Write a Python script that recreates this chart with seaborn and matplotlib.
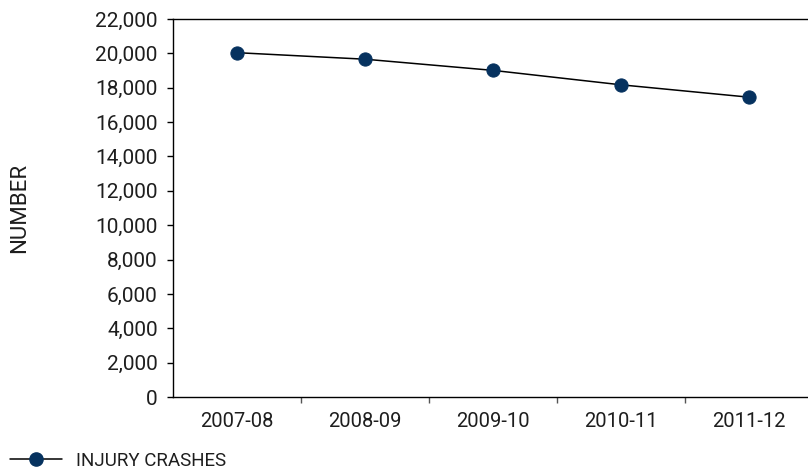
import matplotlib
matplotlib.use("Agg")
import matplotlib.pyplot as plt
import seaborn as sns
import pandas as pd
from matplotlib.ticker import FixedLocator, FuncFormatter
from matplotlib.lines import Line2D

years = ["2007-08", "2008-09", "2009-10", "2010-11", "2011-12"]
injury_crashes = [20040, 19660, 19010, 18170, 17450]
series_name = "INJURY CRASHES"
y_ticks = list(range(0, 22001, 2000))

sns.set_theme(style="white")
plt.rcParams["font.family"] = ["Roboto", "DejaVu Sans"]

navy = "#06325f"
text_color = "#1e1e1e"
df = pd.DataFrame({"year": years, "value": injury_crashes})

fig = plt.figure(figsize=(8.08, 4.73), dpi=100)
ax = fig.add_axes([173 / 808, 76 / 473, 640 / 808, 378 / 473])

sns.lineplot(data=df, x="year", y="value", ax=ax, color="black", linewidth=1.1,
             marker="o", markersize=9.5, markerfacecolor=navy, markeredgecolor=navy,
             sort=False)

ax.set_xlim(-0.5, len(years) - 0.5)
ax.set_ylim(0, 22000)
ax.set_yticks(y_ticks)
ax.yaxis.set_major_formatter(FuncFormatter(lambda v, p: f"{int(v):,}"))
ax.set_xticks(range(len(years)))
ax.set_xticklabels(years)
ax.xaxis.set_minor_locator(FixedLocator([i + 0.5 for i in range(len(years) - 1)]))

ax.tick_params(axis="y", which="major", direction="out", length=4, width=1,
               color="black", labelsize=15, pad=7, left=True, labelcolor=text_color)
ax.tick_params(axis="x", which="major", length=0, labelsize=14.5, pad=11,
               labelcolor=text_color)
ax.tick_params(axis="x", which="minor", direction="out", length=4, width=1,
               color="#555555", bottom=True)

for side in ["left", "top", "bottom", "right"]:
    ax.spines[side].set_visible(True)
    ax.spines[side].set_color("black")
    ax.spines[side].set_linewidth(1.0)

ax.set_xlabel("")
ax.set_ylabel("")
fig.text(20 / 808, 1 - 208 / 473, "NUMBER", rotation=90, ha="center", va="center",
         fontsize=16, color=text_color)

handle = Line2D([], [], color="black", linewidth=1.1, marker="o", markersize=9.5,
                markerfacecolor=navy, markeredgecolor=navy)
fig.legend([handle], [series_name], loc="center left",
           bbox_to_anchor=(4 / 808, 1 - 461 / 473), frameon=False, fontsize=13.5,
           handlelength=2.8, handletextpad=0.75, borderaxespad=0, borderpad=0.3,
           labelcolor=text_color)

fig.savefig("out.png", dpi=100)
